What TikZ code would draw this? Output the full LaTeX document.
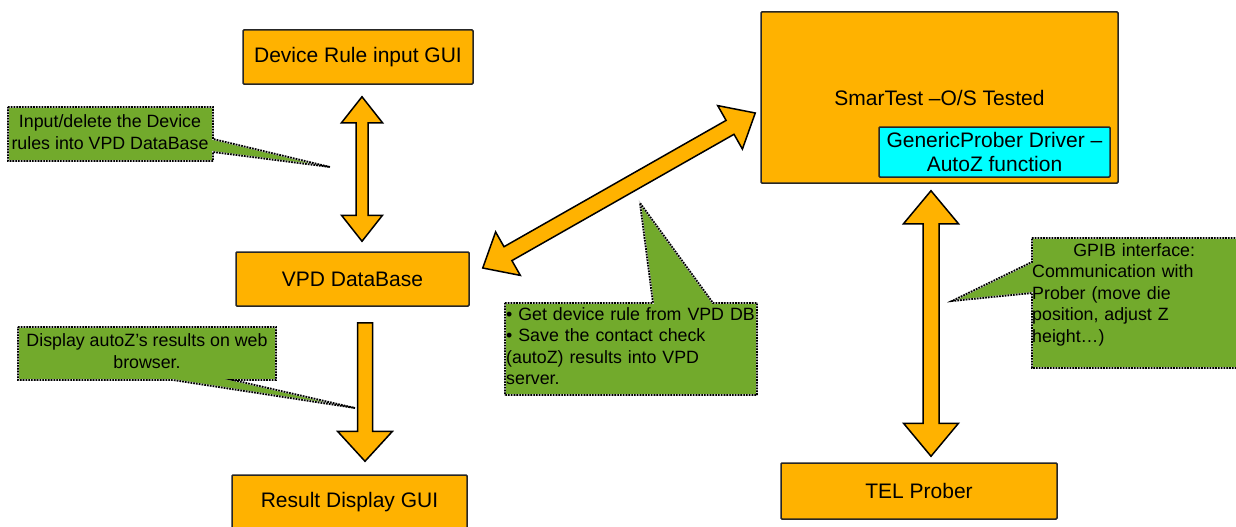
\documentclass[tikz,border=0pt]{standalone}
\usepackage{fontspec}
\setmainfont{Liberation Sans}
\usetikzlibrary{calc}
\definecolor{boxorange}{RGB}{255,178,0}
\definecolor{notegreen}{RGB}{114,170,44}
\definecolor{drvcyan}{RGB}{0,255,255}
\newcommand{\boxfont}{\fontsize{21}{24}\selectfont}
\newcommand{\notefont}{\fontsize{17.8}{21.5}\selectfont}
% fat arrow with two heads: from, to, head length, half head width, half shaft width
\newcommand{\fattwo}[5]{%
  \draw[bigarrow] (#1)
    -- ($(#1)!#3pt!(#2)!#4pt!90:(#2)$)
    -- ($(#1)!#3pt!(#2)!#5pt!90:(#2)$)
    -- ($(#2)!#3pt!(#1)!#5pt!-90:(#1)$)
    -- ($(#2)!#3pt!(#1)!#4pt!-90:(#1)$)
    -- (#2)
    -- ($(#2)!#3pt!(#1)!#4pt!90:(#1)$)
    -- ($(#2)!#3pt!(#1)!#5pt!90:(#1)$)
    -- ($(#1)!#3pt!(#2)!#5pt!-90:(#2)$)
    -- ($(#1)!#3pt!(#2)!#4pt!-90:(#2)$)
    -- cycle;}
% fat arrow with one head at the second point
\newcommand{\fatone}[5]{%
  \draw[bigarrow] ($(#1)!#5pt!90:(#2)$)
    -- ($(#2)!#3pt!(#1)!#5pt!-90:(#1)$)
    -- ($(#2)!#3pt!(#1)!#4pt!-90:(#1)$)
    -- (#2)
    -- ($(#2)!#3pt!(#1)!#4pt!90:(#1)$)
    -- ($(#2)!#3pt!(#1)!#5pt!90:(#1)$)
    -- ($(#1)!#5pt!-90:(#2)$)
    -- cycle;}
\begin{document}
\begin{tikzpicture}[x=1pt,y=-1pt,
    block/.style={draw=black!85,line width=1.5pt,fill=boxorange,rounded corners=1pt,inner sep=0pt,font=\boxfont,align=center},
    bigarrow/.style={draw=black,line width=1.5pt,fill=boxorange,line join=miter},
    note/.style={draw=white!85!black,line width=1.8pt,fill=notegreen,
      postaction={draw=black,fill=none,line width=1.8pt,dash pattern=on 1.6pt off 1.2pt}},
    notetext/.style={inner sep=0pt,font=\notefont,align=center}]
  \clip (0,0) rectangle (1236,527);
  \fill[white] (0,0) rectangle (1236,527);

  % boxes
  \node[block,minimum width=230,minimum height=54] (dev) at (358,57) {Device Rule input GUI};
  \node[block,minimum width=233,minimum height=54] (vpd) at (352.5,279) {VPD DataBase};
  \node[block,minimum width=235,minimum height=55] (res) at (349.5,502.5) {Result Display GUI};
  \node[block,minimum width=357,minimum height=171] (smt) at (939.5,97.5) {SmarTest –O/S Tested};
  \node[block,fill=drvcyan,minimum width=231,minimum height=50] (drv) at (994.5,152) {GenericProber Driver –\\AutoZ function};
  \node[block,minimum width=276,minimum height=56] (tel) at (919,491) {TEL Prober};

  % arrow ends
  \coordinate (up1) at ($(dev.south)+(4,12)$);
  \coordinate (dn1) at ($(vpd.north)+(9.5,-10)$);
  \coordinate (top2) at ($(vpd.south)+(12.5,16)$);
  \coordinate (dn2) at ($(res.north)+(15.5,-13)$);
  \coordinate (sw3) at ($(vpd.east)+(13,-11)$);
  \coordinate (ne3) at ($(smt.west)+(-5,15.5)$);
  \coordinate (up4) at ($(smt.south)+(-8.5,7)$);
  \coordinate (dn4) at ($(tel.north)+(12,-6)$);

  \fattwo{up1}{dn1}{26}{20.5}{6}
  \fatone{top2}{dn2}{30}{27.5}{7.5}
  \fattwo{sw3}{ne3}{29}{25}{8}
  \fattwo{up4}{dn4}{33}{27.5}{8}

  % callouts
  \draw[note] (8,107) -- (213,107) -- (213,139) -- (330,167) -- (213,152) -- (213,161) -- (8,161) -- cycle;
  \draw[note] (18,327) -- (276,327) -- (276,380) -- (233,380) -- (355,408) -- (173,380) -- (18,380) -- cycle;
  \draw[note] (505,303) -- (653,303) -- (640,203) -- (713,303) -- (757,303) -- (757,395) -- (505,395) -- cycle;
  \draw[note] (1032,238) -- (1240,238) -- (1240,368) -- (1032,368) -- (1032,293) -- (952,301) -- (1032,262) -- cycle;

  \node[notetext] (n1) at (110,132) {Input/delete the Device\\rules into VPD DataBase};
  \node[notetext] (n2) at (147,351) {Display autoZ’s results on web\\browser.};
  \node[notetext,align=left,text width=250,anchor=north west] (n3) at (506,307)
    {• Get device rule from VPD DB\\• Save the contact check\\(autoZ) results into VPD\\server.};
  \node[notetext,align=left,text width=204,anchor=north west] (n4) at (1032,243)
    {\makebox[204pt]{GPIB interface:}\\Communication with\\Prober (move die\\position, adjust Z\\height…)};
\end{tikzpicture}
\end{document}
